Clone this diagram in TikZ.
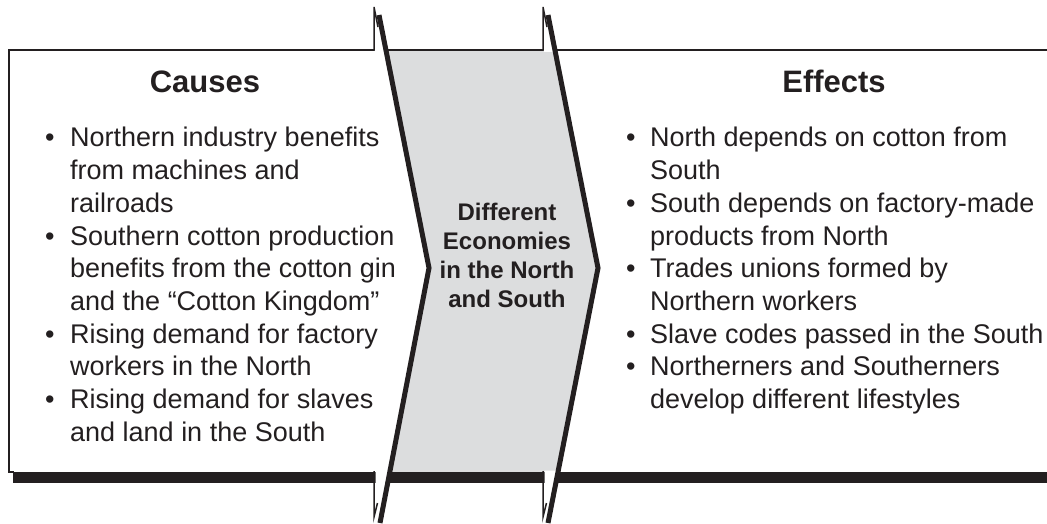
\documentclass[tikz,border=0pt]{standalone}
\usepackage{fontspec}
\setmainfont{Liberation Sans}
\definecolor{ink}{HTML}{231F20}
\definecolor{chev}{HTML}{DCDDDE}
\begin{document}
\begin{tikzpicture}[x=1pt,y=-1pt,
  body/.style={anchor=base west, inner sep=0pt, font=\fontsize{27}{32}\selectfont, text=ink},
  bul/.style={anchor=base west, inner sep=0pt, font=\fontsize{27}{32}\selectfont, text=ink},
  head/.style={anchor=base, inner sep=0pt, font=\fontsize{31}{36}\selectfont\bfseries, text=ink},
  mid/.style={anchor=base, inner sep=0pt, font=\fontsize{24}{29}\selectfont\bfseries, text=ink},
  chevedge/.style={draw=ink, line width=5pt, line join=miter, miter limit=20},
  thinline/.style={draw=ink, line width=1.5pt},
  boxline/.style={draw=ink, line width=2pt},
]
\useasboundingbox (0,0) rectangle (1047,524);
% chevron coordinates
\coordinate (LTs) at (379,15);
\coordinate (LMs) at (429,268);
\coordinate (LBs) at (380,523);
\coordinate (RTs) at (548,15);
\coordinate (RMs) at (598,268);
\coordinate (RBs) at (548,523);
% gray fill
\begin{scope}
\clip (0,50) rectangle (1047,472);
\fill[chev] (LTs) -- (LMs) -- (LBs) -- (RBs) -- (RMs) -- (RTs) -- cycle;
\end{scope}
% box
\draw[boxline] (1047,50) -- (9,50) -- (9,473);
\draw[thinline] (9,472) -- (14,472);
\fill[ink] (13,471.5) rectangle (1047,483);
% spikes (left)
\fill[white] (375,52) -- (374.5,7) -- (386,52) -- cycle;
\draw[thinline] (374,50) -- (374,7) -- (378,27);
\fill[white] (375.5,470.5) -- (375.5,517) -- (390,470.5) -- cycle;
\draw[thinline] (374,471) -- (374,517) -- (377.5,503);
% spikes (right)
\fill[white] (544,52) -- (543.5,7) -- (555,52) -- cycle;
\draw[thinline] (543,50) -- (543,7) -- (547,27);
\fill[white] (544.5,470.5) -- (544.5,517) -- (559,470.5) -- cycle;
\draw[thinline] (543,471) -- (543,517) -- (546.5,503);
% chevron edges
\draw[chevedge] (LTs) -- (LMs) -- (LBs);
\draw[chevedge] (RTs) -- (RMs) -- (RBs);
% headings
\node[head] (causes) at (205,93) {Causes};
\node[head] (effects) at (834,93) {Effects};
% middle
\node[mid] (m1) at (507,220) {Different};
\node[mid] (m2) at (507,249) {Economies};
\node[mid] (m3) at (507,278) {in the North};
\node[mid] (m4) at (507,307) {and South};
% left column
\node[bul] (lb1) at (45,147) {•};
\node[body] (l1) at (70,147) {Northern industry benefits};
\node[body] (l2) at (70,179.7) {from machines and};
\node[body] (l3) at (70,212.4) {railroads};
\node[bul] (lb2) at (45,245.1) {•};
\node[body] (l4) at (70,245.1) {Southern cotton production};
\node[body] (l5) at (70,277.8) {benefits from the cotton gin};
\node[body] (l6) at (70,310.5) {and the “Cotton Kingdom”};
\node[bul] (lb3) at (45,343.2) {•};
\node[body] (l7) at (70,343.2) {Rising demand for factory};
\node[body] (l8) at (70,375.9) {workers in the North};
\node[bul] (lb4) at (45,408.6) {•};
\node[body] (l9) at (70,408.6) {Rising demand for slaves};
\node[body] (l10) at (70,441.3) {and land in the South};
% right column
\node[bul] (rb1) at (626,147) {•};
\node[body] (r1) at (650,147) {North depends on cotton from};
\node[body] (r2) at (650,179.7) {South};
\node[bul] (rb2) at (626,212.4) {•};
\node[body] (r3) at (650,212.4) {South depends on factory-made};
\node[body] (r4) at (650,245.1) {products from North};
\node[bul] (rb3) at (626,277.8) {•};
\node[body] (r5) at (650,277.8) {Trades unions formed by};
\node[body] (r6) at (650,310.5) {Northern workers};
\node[bul] (rb4) at (626,343.2) {•};
\node[body] (r7) at (650,343.2) {Slave codes passed in the South};
\node[bul] (rb5) at (626,375.9) {•};
\node[body] (r8) at (650,375.9) {Northerners and Southerners};
\node[body] (r9) at (650,408.6) {develop different lifestyles};
\end{tikzpicture}
\end{document}
